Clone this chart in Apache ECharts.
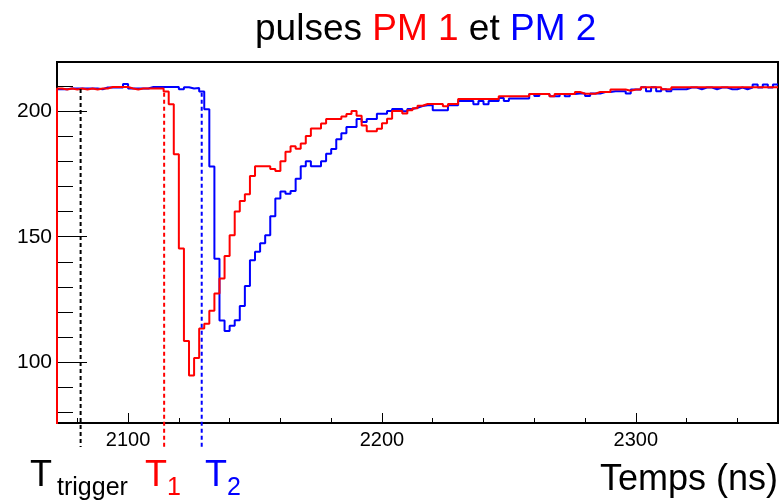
<!DOCTYPE html>
<html>
<head>
<meta charset="utf-8">
<script src="https://cdn.jsdelivr.net/npm/echarts@6/dist/echarts.min.js"></script>
<style>
  html, body { margin: 0; padding: 0; background: #fff; }
  #chart { width: 784px; height: 501px; }
</style>
</head>
<body>
<div id="chart"></div>
<script>
// histogram binning (ns)
var binStart = 2072;
var binWidth = 2;

// PM 1 (red), one value per 2 ns bin
var pm1 = [
  209.2, 208.8, 209.2, 208.8, 209.2, 208.8, 209.2, 208.8, 209.2, 209.2,
  209.8, 209.8, 209.8, 209.8, 209.2, 208.8, 209.2, 209.2, 209.2, 209.2,
  209.2, 208.0, 202.9, 183.0, 145.3, 108.4, 94.6, 101.6, 113.3, 115.2,
  120.4, 127.3, 133.3, 142.3, 150.6, 160.1, 164.3, 167.0, 174.3, 178.2,
  178.2, 178.2, 177.1, 176.3, 180.2, 183.9, 186.1, 185.1, 187.2, 190.2,
  193.2, 193.2, 195.2, 197.0, 197.0, 197.0, 198.0, 199.0, 200.2, 198.3,
  194.4, 192.1, 192.1, 193.1, 195.3, 197.1, 200.2, 200.2, 199.2, 200.5,
  201.3, 202.3, 203.0, 203.0, 203.0, 203.0, 202.1, 203.0, 203.0, 205.0,
  205.0, 205.0, 205.0, 205.0, 205.0, 205.0, 205.0, 206.1, 206.1, 206.1,
  206.1, 206.1, 206.1, 207.0, 207.0, 207.0, 207.0, 206.1, 207.0, 207.0,
  207.0, 207.0, 207.8, 207.1, 207.1, 207.1, 207.8, 207.8, 207.8, 208.8,
  208.8, 208.8, 208.3, 208.8, 208.8, 209.7, 209.7, 209.7, 209.7, 208.9,
  208.9, 209.7, 209.7, 209.7, 209.7, 209.7, 209.7, 209.7, 209.7, 209.7,
  209.7, 209.7, 209.7, 209.7, 209.7, 209.7, 209.7, 209.7, 209.7, 209.7,
  209.7, 209.7
];

// PM 2 (blue)
var pm2 = [
  208.9, 208.9, 209.2, 209.2, 209.2, 209.2, 209.2, 209.2, 208.9, 209.6,
  209.6, 209.6, 209.6, 211.0, 209.2, 209.2, 209.2, 209.2, 209.8, 209.8,
  209.8, 209.8, 209.8, 209.8, 208.9, 209.7, 209.2, 209.4, 208.0, 200.9,
  178.1, 141.2, 116.5, 112.3, 114.4, 116.6, 122.3, 130.3, 140.6, 144.0,
  147.4, 150.6, 158.2, 165.3, 168.1, 167.2, 168.3, 173.2, 178.2, 180.2,
  178.2, 178.2, 180.2, 183.2, 185.0, 188.9, 191.3, 193.8, 193.8, 197.0,
  195.8, 197.0, 197.0, 199.1, 199.1, 200.2, 201.0, 201.0, 200.1, 201.0,
  201.5, 202.2, 202.5, 202.5, 200.5, 200.5, 200.5, 202.5, 202.5, 204.2,
  204.2, 204.2, 202.9, 204.2, 202.9, 204.2, 204.2, 205.4, 204.2, 205.2,
  205.2, 205.2, 205.2, 207.0, 206.2, 207.0, 207.0, 206.1, 206.1, 207.0,
  206.1, 207.0, 207.2, 207.2, 206.2, 207.2, 207.2, 207.8, 207.8, 208.1,
  208.1, 208.1, 207.2, 208.8, 208.8, 209.7, 208.1, 209.7, 208.1, 208.9,
  208.1, 208.9, 208.9, 208.9, 209.6, 209.6, 208.9, 209.6, 209.6, 208.9,
  209.6, 209.6, 208.9, 208.9, 209.6, 208.9, 209.6, 210.8, 209.6, 210.8,
  209.6, 210.8
];

// T_trigger, T1, T2 (ns) and the level where each dashed line stops
var markTimes = [2081.3, 2114.2, 2129.0];
var markTops = [209.0, 207.5, 207.5];

var xMajorTicks = [2100, 2200, 2300];
var xMinorTicks = [2080, 2120, 2140, 2160, 2180, 2220, 2240, 2260, 2280, 2320, 2340];
var yMajorTicks = [100, 150, 200];
var yMinorTicks = [80, 90, 110, 120, 130, 140, 160, 170, 180, 190, 210];

var xMin = 2072, xMax = 2356;
var yMin = 75.6, yMax = 219.8;

var markColors = ['#000000', '#ff0000', '#0000ff'];
var font = 'Liberation Sans, Arial, Helvetica, sans-serif';

// ROOT-like outline: rises from the bottom at the first edge, then steps across each bin
function histPoints(values) {
    var pts = [[binStart, 0]];
    for (var i = 0; i < values.length; i++) {
        pts.push([binStart + i * binWidth, values[i]]);
    }
    pts.push([binStart + values.length * binWidth, values[values.length - 1]]);
    return pts;
}

function plain(v) { return String(v); }

function xAxisCfg(ticks, len, labels) {
    return {
        type: 'value', position: 'bottom', min: xMin, max: xMax,
        splitLine: {show: false},
        axisLine: {show: labels, onZero: false, lineStyle: {color: '#000', width: 2}},
        axisTick: {show: true, inside: true, length: len, customValues: ticks,
                   lineStyle: {color: '#000', width: 1}},
        axisLabel: {show: labels, customValues: ticks, color: '#000', formatter: plain,
                    fontFamily: font, fontSize: 20, margin: 7}
    };
}

function yAxisCfg(ticks, len, labels) {
    return {
        type: 'value', position: 'left', offset: 0, min: yMin, max: yMax,
        splitLine: {show: false},
        axisLine: {show: labels, onZero: false, lineStyle: {color: '#000', width: 2}},
        axisTick: {show: true, inside: true, length: len, customValues: ticks,
                   lineStyle: {color: '#000', width: 1}},
        axisLabel: {show: labels, customValues: ticks, color: '#000', formatter: plain,
                    fontFamily: font, fontSize: 21, margin: 5}
    };
}

var option = {
    backgroundColor: '#fff',
    animation: false,
    title: {
        left: 250,
        top: 6,
        text: '{k|pulses }{r|PM 1}{k| et }{b|PM 2}',
        textStyle: {
            fontWeight: 'normal',
            rich: {
                k: {color: '#000', fontSize: 37, fontFamily: font, fontWeight: 'normal'},
                r: {color: '#ff0000', fontSize: 37, fontFamily: font, fontWeight: 'normal'},
                b: {color: '#0000ff', fontSize: 37, fontFamily: font, fontWeight: 'normal'}
            }
        }
    },
    grid: {
        left: 57, right: 6, top: 62, bottom: 78,
        show: true, borderColor: '#000', borderWidth: 2, containLabel: false
    },
    xAxis: [xAxisCfg(xMajorTicks, 10, true), xAxisCfg(xMinorTicks, 5, false)],
    yAxis: [yAxisCfg(yMajorTicks, 30, true), yAxisCfg(yMinorTicks, 16, false)],
    series: [
        {
            name: 'PM 2', type: 'line', step: 'end', data: histPoints(pm2),
            xAxisIndex: 0, yAxisIndex: 0,
            showSymbol: false, clip: true,
            lineStyle: {color: '#0000ff', width: 2}
        },
        {
            name: 'PM 1', type: 'line', step: 'end', data: histPoints(pm1),
            xAxisIndex: 0, yAxisIndex: 0,
            showSymbol: false, clip: true,
            lineStyle: {color: '#ff0000', width: 2}
        },
        {
            type: 'custom', xAxisIndex: 0, yAxisIndex: 0, clip: false, z: 5,
            data: markTimes.map(function (t, i) { return [t, markTops[i]]; }),
            renderItem: function (params, api) {
                var top = api.coord([api.value(0), api.value(1)]);
                var bottom = api.coord([api.value(0), yMin]);
                return {
                    type: 'line',
                    shape: {x1: top[0], y1: top[1], x2: bottom[0], y2: bottom[1] + 24},
                    style: {stroke: markColors[params.dataIndex], lineWidth: 2, lineDash: [4, 3]}
                };
            }
        }
    ],
    graphic: [
        {type: 'text', left: 30, top: 458, style: {text: 'T', fill: '#000', font: '36px ' + font}},
        {type: 'text', left: 57, top: 476, style: {text: 'trigger', fill: '#000', font: '25px ' + font}},
        {type: 'text', left: 145, top: 458, style: {text: 'T', fill: '#ff0000', font: '36px ' + font}},
        {type: 'text', left: 167, top: 476, style: {text: '1', fill: '#ff0000', font: '25px ' + font}},
        {type: 'text', left: 205, top: 458, style: {text: 'T', fill: '#0000ff', font: '36px ' + font}},
        {type: 'text', left: 227, top: 476, style: {text: '2', fill: '#0000ff', font: '25px ' + font}},
        {type: 'text', right: 6, top: 462, style: {text: 'Temps (ns)', fill: '#000', font: '36px ' + font}}
    ]
};

var myChart = echarts.init(document.getElementById('chart'));
myChart.setOption(option);
</script>
</body>
</html>
